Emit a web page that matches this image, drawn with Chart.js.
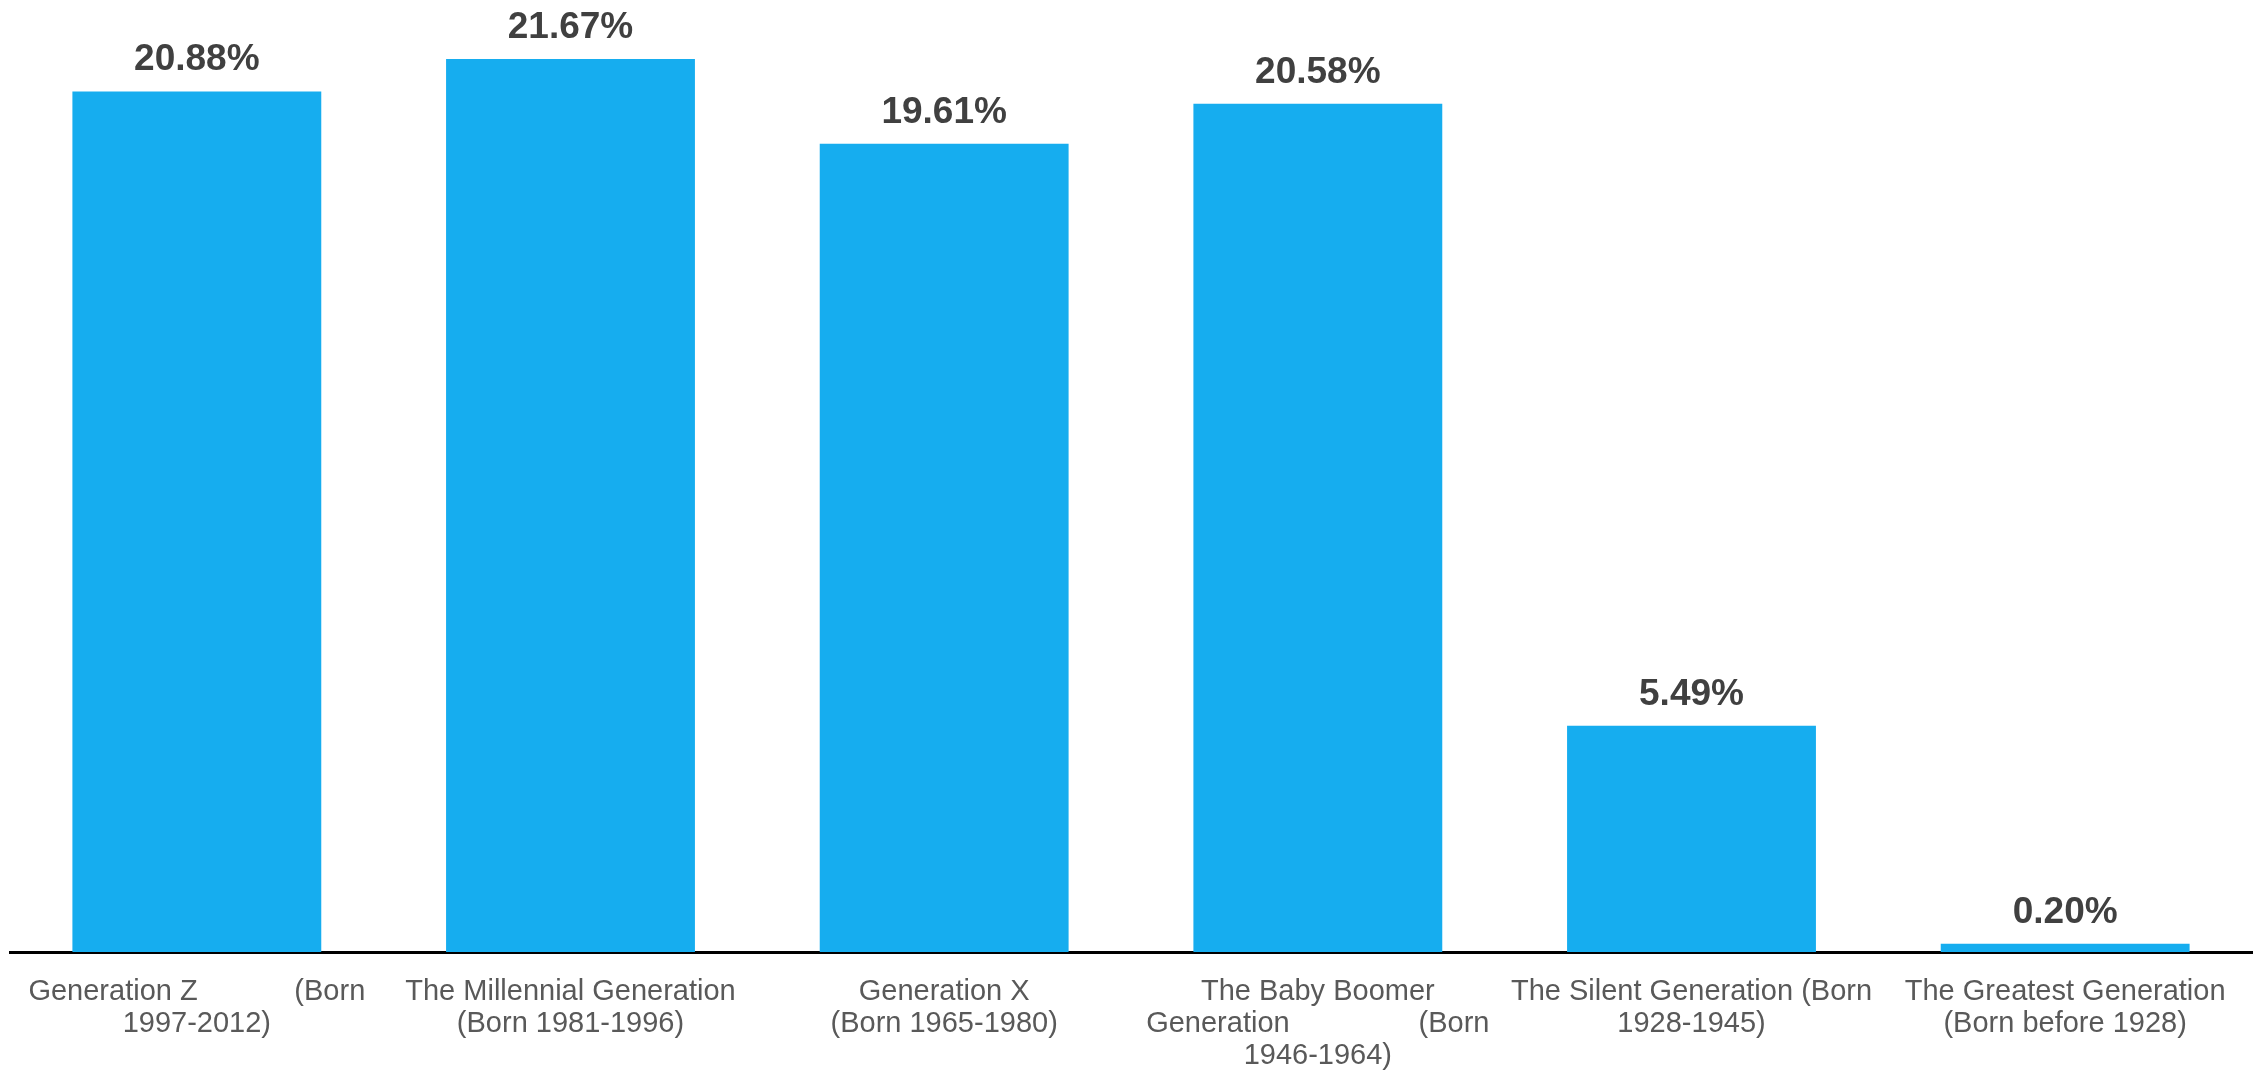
<!DOCTYPE html>
<html>
<head>
<meta charset="utf-8">
<script src="https://cdn.jsdelivr.net/npm/chart.js@4/dist/chart.umd.min.js"></script>
<style>
  html, body { margin: 0; padding: 0; background: #ffffff; }
  #wrap { width: 2265px; height: 1071px; }
</style>
</head>
<body>
<div id="wrap"><canvas id="c" width="2265" height="1071"></canvas></div>
<script>
// Category labels (multi-line, spaces mimic the justified text of the original)
const categories = [
  ["Generation Z            (Born", "1997-2012)"],
  ["The Millennial Generation", "(Born 1981-1996)"],
  ["Generation X", "(Born 1965-1980)"],
  ["The Baby Boomer", "Generation                (Born", "1946-1964)"],
  ["The Silent Generation (Born", "1928-1945)"],
  ["The Greatest Generation", "(Born before 1928)"]
];
// Share of population (%)
const shares = [20.88, 21.67, 19.61, 20.58, 5.49, 0.20];
const valueLabels = ["20.88%", "21.67%", "19.61%", "20.58%", "5.49%", "0.20%"];

const barColor = "#16ADEF";

const valueLabelPlugin = {
  id: "valueLabels",
  afterDatasetsDraw(chart) {
    const ctx = chart.ctx;
    const meta = chart.getDatasetMeta(0);
    ctx.save();
    ctx.font = "bold 37px 'Liberation Sans', Arial, sans-serif";
    ctx.fillStyle = "#404040";
    ctx.textAlign = "center";
    ctx.textBaseline = "alphabetic";
    meta.data.forEach((bar, i) => {
      ctx.fillText(valueLabels[i], bar.x, bar.y - 21);
    });
    ctx.restore();
  }
};

new Chart(document.getElementById("c"), {
  type: "bar",
  data: {
    labels: categories,
    datasets: [{
      data: shares,
      backgroundColor: barColor,
      borderWidth: 0,
      categoryPercentage: 1.0,
      barPercentage: 0.666
    }]
  },
  options: {
    responsive: false,
    devicePixelRatio: 1,
    animation: false,
    layout: { padding: { left: 10, right: 13, top: 0, bottom: 0 } },
    plugins: {
      legend: { display: false },
      tooltip: { enabled: false }
    },
    scales: {
      x: {
        grid: { display: false, drawTicks: false },
        border: { display: true, color: "#000000", width: 3 },
        afterFit: (scale) => { scale.height = 119; },
        ticks: {
          color: "#595959",
          font: { family: "'Liberation Sans', Arial, sans-serif", size: 29, lineHeight: 1.1 },
          padding: 24,
          maxRotation: 0,
          minRotation: 0,
          autoSkip: false
        }
      },
      y: {
        display: false,
        min: 0,
        max: 23.1
      }
    }
  },
  plugins: [valueLabelPlugin]
});
</script>
</body>
</html>
